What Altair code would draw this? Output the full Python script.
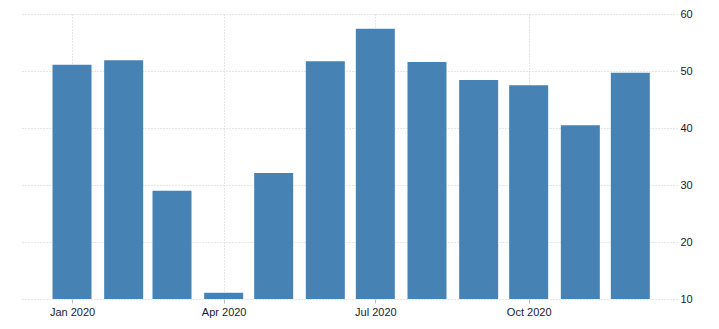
import altair as alt
import pandas as pd

months = ["2020-01-01", "2020-02-01", "2020-03-01", "2020-04-01", "2020-05-01", "2020-06-01",
          "2020-07-01", "2020-08-01", "2020-09-01", "2020-10-01", "2020-11-01", "2020-12-01"]
values = [51.1, 51.9, 29.0, 11.1, 32.1, 51.7, 57.4, 51.6, 48.4, 47.5, 40.5, 49.7]
x_ticks = ["2020-01-01", "2020-04-01", "2020-07-01", "2020-10-01"]
y_ticks = [10, 20, 30, 40, 50, 60]

df = pd.DataFrame({"date": months, "value": values})

x_tick_values = [alt.DateTime(year=int(d[:4]), month=int(d[5:7]), date=int(d[8:10]), utc=True) for d in x_ticks]

chart = alt.Chart(df).mark_bar(size=39, color="#4682B4").encode(
    x=alt.X("date:T",
            scale=alt.Scale(domain=[alt.DateTime(year=2019, month=12, date=2, utc=True),
                                    alt.DateTime(year=2020, month=12, date=29, utc=True)],
                            padding=0, type="utc"),
            axis=alt.Axis(values=x_tick_values, format="%b %Y", title=None,
                          domain=False, ticks=True, tickSize=4, tickColor="#bbbbbb",
                          labelPadding=3, labelFont="Liberation Sans", labelFontSize=11,
                          labelColor="#1a1a2e", grid=True, gridColor="#cccccc",
                          gridDash=[1, 2], labelAngle=0)),
    y=alt.Y("value:Q",
            scale=alt.Scale(domain=[10, 60], zero=False, nice=False),
            axis=alt.Axis(orient="right", values=y_ticks, title=None, domain=False,
                          ticks=False, labelPadding=3, labelFont="Liberation Sans",
                          labelFontSize=11, labelColor="#1a1a2e", grid=True,
                          gridColor="#cccccc", gridDash=[1, 2])),
    y2=alt.datum(10),
).properties(
    width=655,
    height=285,
    background="white",
    autosize=alt.AutoSizeParams(type="none"),
    padding={"left": 22, "top": 14, "right": 42, "bottom": 30},
).configure_view(stroke=None)

chart.save("out.html", embed_options={"renderer": "svg", "actions": False})
